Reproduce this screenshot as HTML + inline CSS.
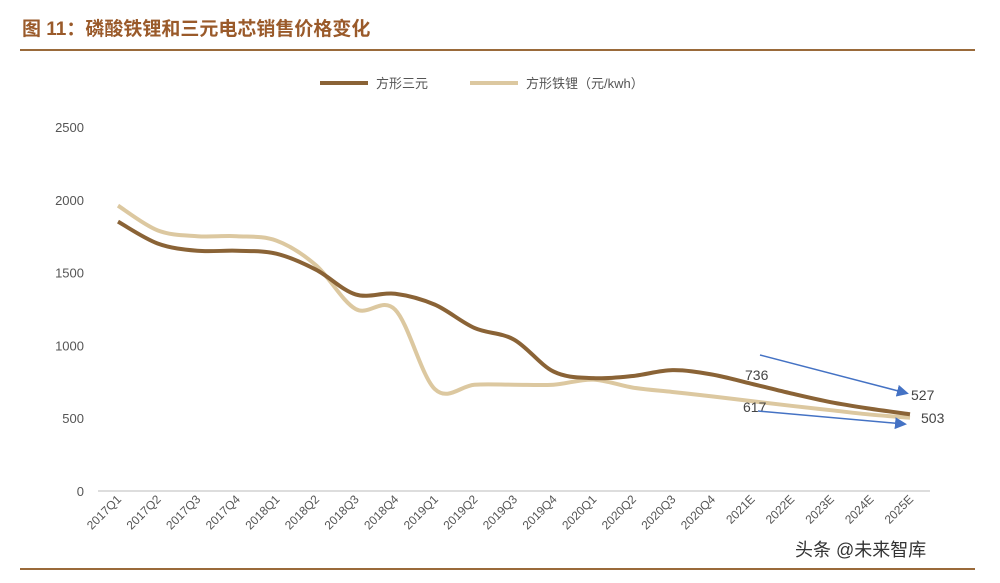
<!DOCTYPE html>
<html><head><meta charset="utf-8"><style>
body{margin:0;background:#fff;width:1000px;height:578px;overflow:hidden;font-family:"Liberation Sans","Noto Sans CJK SC",sans-serif}
</style></head><body>
<svg id="c" width="1000" height="578">
<text x="22" y="35" font-size="19" font-weight="bold" fill="#9a5a2a" font-family="Liberation Sans, Noto Sans CJK SC, sans-serif">图 11：磷酸铁锂和三元电芯销售价格变化</text>
<line x1="20" y1="50" x2="975" y2="50" stroke="#9a6a3a" stroke-width="2"/>
<line x1="20" y1="569" x2="975" y2="569" stroke="#9a6a3a" stroke-width="2"/>
<g>
<line x1="320" y1="83" x2="368" y2="83" stroke="#8a6336" stroke-width="4"/>
<text x="376" y="88" font-size="13" fill="#555">方形三元</text>
<line x1="470" y1="83" x2="518" y2="83" stroke="#dcc8a0" stroke-width="4"/>
<text x="526" y="88" font-size="13" fill="#555">方形铁锂（元/kwh）</text>
</g>
<g id="axes"></g>
<g id="series"></g>
<g>
<text x="745" y="380" font-size="14" fill="#444">736</text>
<text x="743" y="412" font-size="14" fill="#444">617</text>
<text x="911" y="400" font-size="14" fill="#444">527</text>
<text x="921" y="423" font-size="14" fill="#444">503</text>
<defs><marker id="ah" markerWidth="8" markerHeight="8" refX="6" refY="4" orient="auto"><path d="M0,0 L8,4 L0,8 z" fill="#4472c4"/></marker></defs>
<line x1="760" y1="355" x2="906" y2="393" stroke="#4472c4" stroke-width="1.5" marker-end="url(#ah)"/>
<line x1="758" y1="411" x2="904" y2="424" stroke="#4472c4" stroke-width="1.5" marker-end="url(#ah)"/>
</g>
<text x="795" y="556" font-size="18" fill="#333">头条 @未来智库</text>
</svg>
<script>
const categories=["2017Q1","2017Q2","2017Q3","2017Q4","2018Q1","2018Q2","2018Q3","2018Q4","2019Q1","2019Q2","2019Q3","2019Q4","2020Q1","2020Q2","2020Q3","2020Q4","2021E","2022E","2023E","2024E","2025E"];
const ternary=[1850,1700,1650,1650,1630,1520,1350,1355,1280,1120,1040,820,775,790,830,800,736,670,610,565,527];
const lfp=[1960,1790,1750,1750,1720,1550,1250,1245,700,730,730,730,765,710,680,650,617,585,555,525,503];
const yTicks=[0,500,1000,1500,2000,2500];
const NS="http://www.w3.org/2000/svg";
const x=i=>118+i*39.6, y=v=>491-v*(364/2500);
const ax=document.getElementById('axes'), se=document.getElementById('series');
function mk(t,a,p){const e=document.createElementNS(NS,t);for(const k in a)e.setAttribute(k,a[k]);p.appendChild(e);return e;}
const base=mk('line',{x1:98,y1:491,x2:930,y2:491,stroke:'#bbb'},ax);


yTicks.forEach(v=>{const t=mk('text',{x:84,y:y(v)+5,'font-size':13,fill:'#555','text-anchor':'end'},ax);t.textContent=v;

});
categories.forEach((c,i)=>{const t=mk('text',{x:x(i)+4,y:500,'font-size':12,fill:'#555','text-anchor':'end',transform:`rotate(-45 ${x(i)+4} 500)`},ax);t.textContent=c;

});
function path(vals){const p=vals.map((v,i)=>[x(i),y(v)]);let d=`M${p[0][0]},${p[0][1]}`;
for(let i=0;i<p.length-1;i++){const p0=p[i-1]||p[i],p1=p[i],p2=p[i+1],p3=p[i+2]||p2;
d+=` C${p1[0]+(p2[0]-p0[0])/6},${p1[1]+(p2[1]-p0[1])/6} ${p2[0]-(p3[0]-p1[0])/6},${p2[1]-(p3[1]-p1[1])/6} ${p2[0]},${p2[1]}`;}return d;}
const l1=mk('path',{d:path(lfp),fill:'none',stroke:'#dcc8a0','stroke-width':4},se);


const l2=mk('path',{d:path(ternary),fill:'none',stroke:'#8a6336','stroke-width':4},se);


</script>
</body></html>
